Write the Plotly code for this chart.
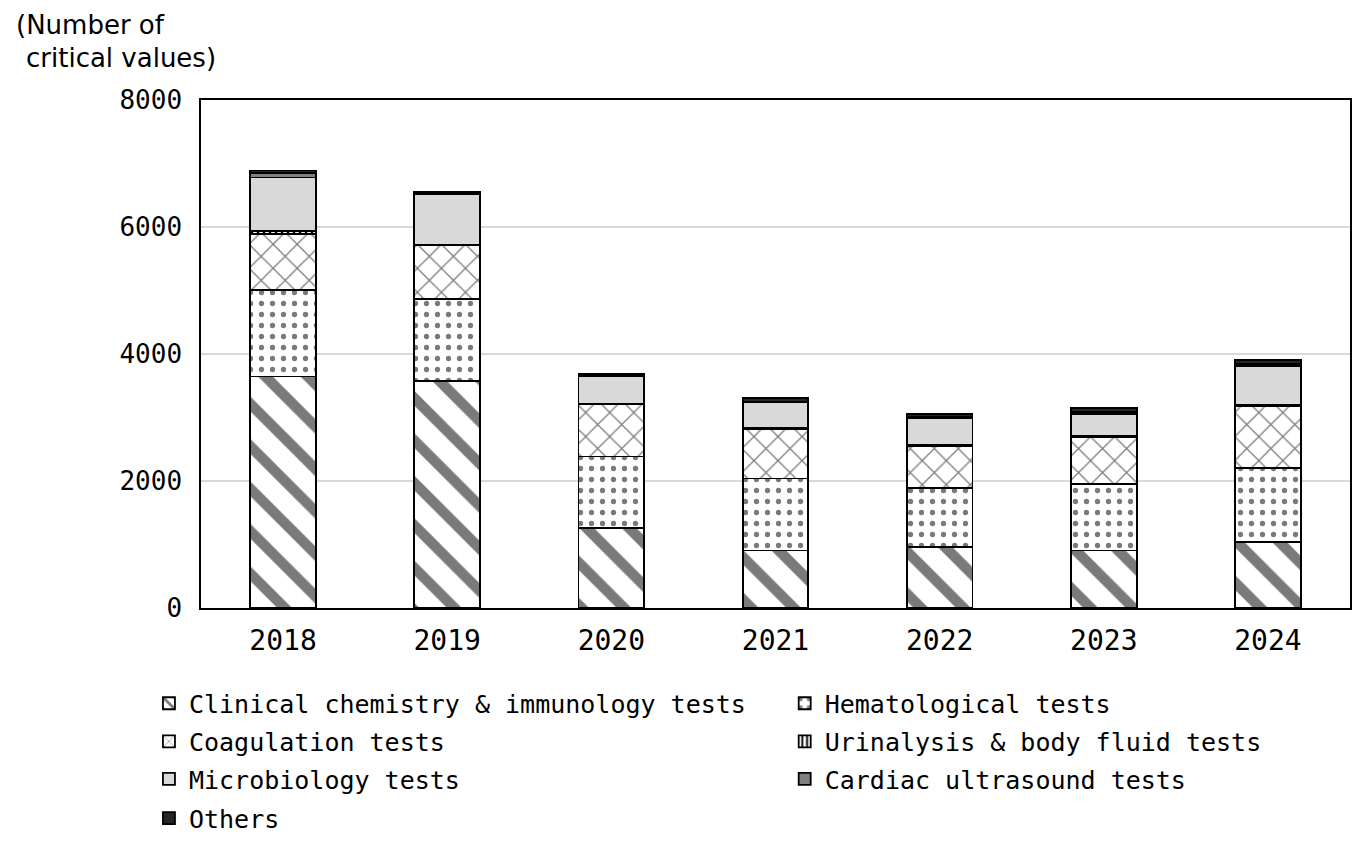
import plotly.graph_objects as go

# values
years = ["2018", "2019", "2020", "2021", "2022", "2023", "2024"]
clinical = [3645, 3580, 1255, 905, 955, 905, 1045]
hematology = [1365, 1285, 1130, 1135, 935, 1045, 1165]
coagulation = [875, 850, 820, 775, 665, 745, 965]
urinalysis = [50, 10, 10, 20, 15, 15, 30]
microbiology = [845, 795, 435, 400, 425, 350, 600]
cardiac = [70, 10, 5, 10, 10, 25, 40]
others = [40, 30, 35, 60, 55, 60, 55]

y_ticks = [0, 2000, 4000, 6000, 8000]

mono = "DejaVu Sans Mono"
outline = dict(color="black", width=1.8)

# (name, values, pattern, colour, legend column x, legend row y)
series = [
    ("Clinical chemistry & immunology tests", clinical,
     dict(shape="\\", fgcolor="#7a7a7a", fgopacity=1, bgcolor="white", size=30, solidity=0.35),
     "white", -0.0453, -0.188),
    ("Hematological tests", hematology,
     dict(shape=".", fgcolor="#7a7a7a", fgopacity=1, bgcolor="white", size=11, solidity=0.18),
     "white", 0.508, -0.188),
    ("Coagulation tests", coagulation,
     dict(shape="x", fgcolor="#7a7a7a", fgopacity=1, bgcolor="white", size=17, solidity=0.14),
     "white", -0.0453, -0.263),
    ("Urinalysis & body fluid tests", urinalysis,
     dict(shape="|", fgcolor="black", fgopacity=1, bgcolor="white", size=6, solidity=0.4),
     "white", 0.508, -0.263),
    ("Microbiology tests", microbiology, None, "#d9d9d9", -0.0453, -0.337),
    ("Cardiac ultrasound tests", cardiac, None, "#808080", 0.508, -0.337),
    ("Others", others, None, "#262626", -0.0453, -0.414),
]

fig = go.Figure()
legends = {}
for i, (name, vals, pat, col, lx, ly) in enumerate(series):
    marker = dict(color=col, line=outline)
    if pat:
        marker["pattern"] = pat
    key = "legend" if i == 0 else "legend%d" % (i + 1)
    fig.add_trace(go.Bar(x=years, y=vals, name=name, legend=key,
                         marker=marker, width=0.4))
    legends[key] = dict(x=lx, xanchor="left", y=ly, yanchor="middle",
                        font=dict(family=mono, size=25, color="black"),
                        bgcolor="rgba(0,0,0,0)")

fig.update_layout(
    barmode="stack",
    showlegend=True,
    width=1362, height=845,
    margin=dict(l=193, r=20, t=92, b=243),
    paper_bgcolor="white", plot_bgcolor="white",
    xaxis=dict(type="category", showline=True, linecolor="black", linewidth=1.5,
               mirror=True, ticks="", ticklabelstandoff=7,
               tickfont=dict(family=mono, size=28, color="black")),
    yaxis=dict(range=[0, 8000], tickvals=y_ticks, showline=True, linecolor="black",
               linewidth=1.5, mirror=True, showgrid=True, gridcolor="#d9d9d9",
               gridwidth=1.5, ticks="", ticklabelstandoff=12, zeroline=False,
               tickfont=dict(family=mono, size=26, color="black")),
    annotations=[
        dict(text="(Number of", xref="paper", yref="paper", x=-0.163, y=1.147,
             xanchor="left", yanchor="middle", showarrow=False,
             font=dict(family="DejaVu Sans", size=26, color="black")),
        dict(text="critical values)", xref="paper", yref="paper", x=-0.154, y=1.082,
             xanchor="left", yanchor="middle", showarrow=False,
             font=dict(family="DejaVu Sans", size=26, color="black")),
    ],
)
fig.update_layout(**legends)

fig.write_html("out.html")
